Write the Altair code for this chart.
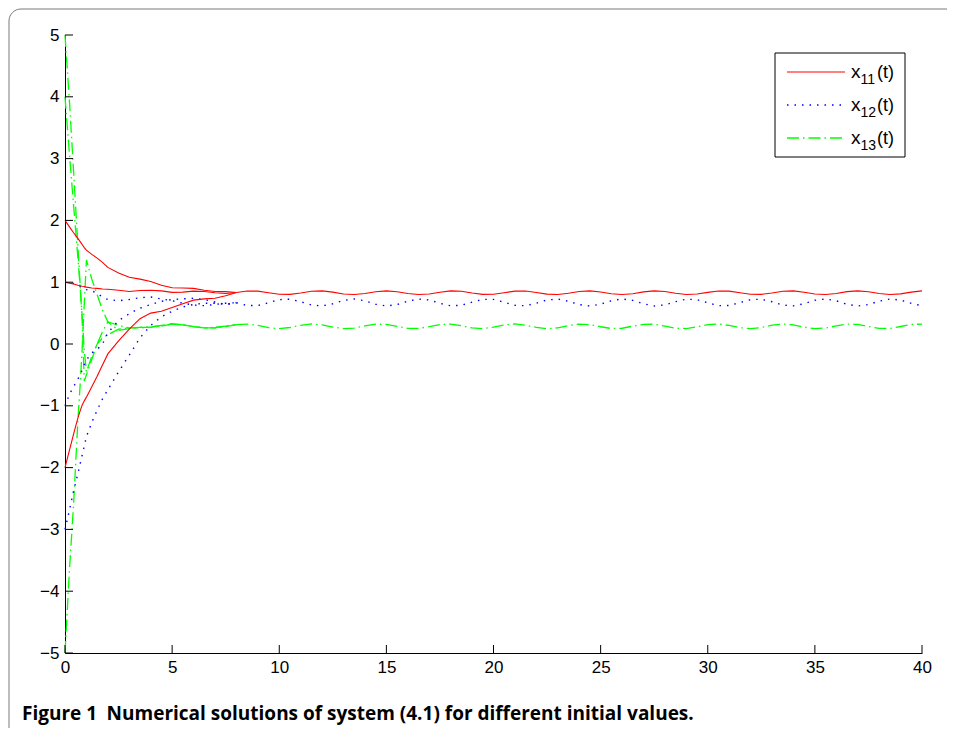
import altair as alt
import pandas as pd

# ---------------- data ----------------
t_early = [0, 0.2, 0.4, 0.6, 0.7, 0.8, 0.9, 1.0, 1.25, 1.5, 1.75, 2.0, 2.5,
           3, 3.5, 4, 4.5, 5, 5.5, 6, 6.5, 7, 7.5]

x11_a = [2.0, 1.9, 1.8, 1.71, 1.66, 1.61, 1.56, 1.52, 1.45, 1.39, 1.32, 1.24, 1.15,
         1.08, 1.05, 1.01, 0.95, 0.91, 0.905, 0.9, 0.87, 0.85, 0.85]
x11_b = [1.0, 0.985, 0.97, 0.95, 0.942, 0.935, 0.93, 0.92, 0.905, 0.9, 0.89, 0.885, 0.87,
         0.85, 0.865, 0.87, 0.86, 0.835, 0.84, 0.855, 0.85, 0.83, 0.82]
x11_c = [-2.0, -1.73, -1.46, -1.2, -1.09, -0.99, -0.92, -0.86, -0.69, -0.52, -0.34, -0.16, 0.05,
         0.24, 0.41, 0.50, 0.53, 0.59, 0.65, 0.71, 0.73, 0.74, 0.78]

x12_a = [1.0, 0.99, 0.98, 0.95, 0.935, 0.92, 0.9, 0.88, 0.86, 0.82, 0.76, 0.72, 0.70,
         0.72, 0.75, 0.76, 0.73, 0.70, 0.66, 0.63, 0.62, 0.64, 0.66]
x12_b = [-1.0, -0.82, -0.69, -0.57, -0.5, -0.42, -0.33, -0.26, -0.14, -0.09, 0.0, 0.18, 0.38,
         0.49, 0.58, 0.64, 0.69, 0.72, 0.73, 0.74, 0.72, 0.68, 0.64]
x12_c = [-3.0, -2.7, -2.38, -2.1, -1.95, -1.8, -1.65, -1.5, -1.27, -1.07, -0.89, -0.74, -0.45,
         -0.18, 0.1, 0.3, 0.44, 0.53, 0.6, 0.64, 0.66, 0.66, 0.64]

x13_a = [5.0, 3.97, 2.8, 1.6, 1.0, 0.4, -0.6, -0.5, -0.25, 0.0, 0.2, 0.36, 0.30,
         0.26, 0.26, 0.27, 0.30, 0.33, 0.31, 0.28, 0.26, 0.26, 0.29]
x13_b = [4.0, 3.1, 2.25, 1.4, 0.95, 0.45, -0.1, -0.45, -0.2, 0.0, 0.1, 0.15, 0.24,
         0.26, 0.27, 0.28, 0.30, 0.32, 0.31, 0.28, 0.26, 0.27, 0.29]
x13_c = [-5.0, -3.7, -2.6, -1.25, -0.7, -0.08, 0.65, 1.36, 1.05, 0.8, 0.55, 0.36, 0.22,
         0.25, 0.27, 0.27, 0.29, 0.32, 0.31, 0.28, 0.26, 0.26, 0.28]

t_late = [8 + 0.5 * i for i in range(65)]

x11_late = [0.834, 0.857, 0.855, 0.830, 0.805, 0.803, 0.826, 0.853, 0.859, 0.839,
            0.810, 0.800, 0.817, 0.846, 0.860, 0.846, 0.818, 0.800, 0.810, 0.838,
            0.859, 0.853, 0.826, 0.803, 0.805, 0.830, 0.855, 0.857, 0.834, 0.807,
            0.801, 0.822, 0.850, 0.860, 0.842, 0.814, 0.800, 0.814, 0.843, 0.860,
            0.849, 0.821, 0.801, 0.808, 0.835, 0.857, 0.855, 0.830, 0.805, 0.803,
            0.826, 0.853, 0.859, 0.838, 0.810, 0.800, 0.818, 0.847, 0.860, 0.846,
            0.817, 0.800, 0.811, 0.839, 0.859]
x12_late = [0.668, 0.622, 0.622, 0.668, 0.718, 0.725, 0.684, 0.631, 0.616, 0.652,
            0.706, 0.729, 0.699, 0.644, 0.615, 0.638, 0.692, 0.728, 0.712, 0.659,
            0.618, 0.627, 0.677, 0.722, 0.722, 0.675, 0.626, 0.619, 0.661, 0.713,
            0.728, 0.691, 0.637, 0.615, 0.645, 0.700, 0.729, 0.705, 0.651, 0.616,
            0.633, 0.685, 0.726, 0.717, 0.667, 0.621, 0.623, 0.669, 0.718, 0.725,
            0.683, 0.631, 0.617, 0.653, 0.707, 0.729, 0.698, 0.643, 0.615, 0.639,
            0.693, 0.728, 0.711, 0.658, 0.618]
x13_late = [0.312, 0.323, 0.301, 0.264, 0.248, 0.267, 0.303, 0.324, 0.310, 0.274,
            0.249, 0.258, 0.293, 0.321, 0.317, 0.285, 0.253, 0.252, 0.282, 0.316,
            0.322, 0.295, 0.260, 0.249, 0.272, 0.308, 0.324, 0.305, 0.269, 0.248,
            0.262, 0.298, 0.323, 0.314, 0.279, 0.251, 0.255, 0.288, 0.319, 0.320,
            0.290, 0.256, 0.250, 0.277, 0.312, 0.323, 0.300, 0.264, 0.248, 0.267,
            0.304, 0.324, 0.309, 0.273, 0.249, 0.259, 0.293, 0.321, 0.317, 0.284,
            0.253, 0.252, 0.283, 0.316, 0.322]

x_ticks = [0, 5, 10, 15, 20, 25, 30, 35, 40]
y_ticks = [-5, -4, -3, -2, -1, 0, 1, 2, 3, 4, 5]
legend_subs = ["11", "12", "13"]
caption = ["Figure 1\u2002Numerical solutions of system (4.1) for different initial values."]

# ---------------- build table ----------------
series = {
    "x11": ([x11_a, x11_b, x11_c], x11_late),
    "x12": ([x12_a, x12_b, x12_c], x12_late),
    "x13": ([x13_a, x13_b, x13_c], x13_late),
}
rows = []
for var, (earlies, late) in series.items():
    # transient part of each trajectory, joined to the first common point
    for k, early in enumerate(earlies):
        for t, v in zip(t_early + [t_late[0]], early + [late[0]]):
            rows.append({"t": t, "v": v, "var": var, "traj": str(k)})
    # common periodic part, drawn once
    for t, v in zip(t_late, late):
        rows.append({"t": t, "v": v, "var": var, "traj": "late"})
df = pd.DataFrame(rows)

W, H = 857, 618
FONT = "Liberation Sans"

xscale = alt.Scale(domain=[0, 40], nice=False, zero=False)
yscale = alt.Scale(domain=[-5, 5], nice=False, zero=False)

x_axis = alt.Axis(values=x_ticks, title=None, grid=False, ticks=False, domainColor="black",
                  domainWidth=1, labelFont=FONT, labelFontSize=17, labelColor="black",
                  labelPadding=6, labelFlush=False, labelOverlap=False)
y_axis = alt.Axis(values=y_ticks, title=None, grid=False, ticks=False, domainColor="black",
                  domainWidth=1, labelFont=FONT, labelFontSize=17, labelColor="black",
                  labelPadding=6, labelFlush=False, labelOverlap=False)


def X(field):
    return alt.X(field, scale=xscale, axis=x_axis)


def Y(field):
    return alt.Y(field, scale=yscale, axis=y_axis)


one = pd.DataFrame({"a": [0]})

frame = alt.Chart(one).mark_rect(filled=False, stroke="#7a7a7a", strokeWidth=1,
                                 cornerRadius=12).encode(
    x=alt.value(-56), x2=alt.value(W + 60), y=alt.value(-26), y2=alt.value(H + 120))

styles = {
    "x13": dict(color="#00ff00", strokeWidth=1.3, strokeDash=[12, 4, 1.5, 4]),
    "x12": dict(color="#0000ff", strokeWidth=1.4, strokeDash=[1.5, 6]),
    "x11": dict(color="#ff0000", strokeWidth=1.1),
}
line_layers = []
for var in ["x13", "x12", "x11"]:
    st = styles[var]
    mk = alt.Chart(df[df["var"] == var]).mark_line(strokeCap="butt", **st)
    line_layers.append(mk.encode(x=X("t:Q"), y=Y("v:Q"), detail="traj:N", order="t:Q"))

xt = alt.Chart(pd.DataFrame({"t": x_ticks, "v": [-5] * len(x_ticks)})).mark_rule(
    color="black", strokeWidth=1).encode(
    x=X("t:Q"), y=Y("v:Q"), y2=alt.value(H - 8))
yt = alt.Chart(pd.DataFrame({"v": y_ticks, "t": [0] * len(y_ticks)})).mark_rule(
    color="black", strokeWidth=1).encode(
    y=Y("v:Q"), x=X("t:Q"), x2=alt.value(8))

# legend
leg_layers = [
    alt.Chart(one).mark_rect(fill="white", stroke="black", strokeWidth=1).encode(
        x=alt.value(710), x2=alt.value(840), y=alt.value(18), y2=alt.value(122))
]
leg_styles = [styles["x11"], styles["x12"], styles["x13"]]
for i, sub in enumerate(legend_subs):
    yrow = 37 + 33 * i
    st = dict(leg_styles[i])
    leg_layers.append(alt.Chart(one).mark_rule(strokeCap="butt", **st).encode(
        x=alt.value(722), x2=alt.value(780), y=alt.value(yrow)))
    leg_layers.append(alt.Chart(pd.DataFrame({"s": ["x"]})).mark_text(
        font=FONT, fontSize=19, align="left", baseline="alphabetic", color="black").encode(
        text="s:N", x=alt.value(786), y=alt.value(yrow + 5.5)))
    leg_layers.append(alt.Chart(pd.DataFrame({"s": [sub]})).mark_text(
        font=FONT, fontSize=14, align="left", baseline="alphabetic", color="black").encode(
        text="s:N", x=alt.value(795.5), y=alt.value(yrow + 12)))
    leg_layers.append(alt.Chart(pd.DataFrame({"s": ["(t)"]})).mark_text(
        font=FONT, fontSize=18, align="left", baseline="alphabetic", color="black").encode(
        text="s:N", x=alt.value(812), y=alt.value(yrow + 5.5)))

cap = alt.Chart(pd.DataFrame({"s": caption})).mark_text(
    font="Open Sans", fontSize=19, fontWeight="bold", align="left",
    baseline="alphabetic", color="black").encode(
    text="s:N", x=alt.value(-43), y=alt.value(H + 67))

chart = alt.layer(frame, *line_layers, xt, yt, *leg_layers, cap).properties(
    width=W, height=H,
    padding={"left": 57, "top": 27, "right": 25, "bottom": 75},
    autosize=alt.AutoSizeParams(type="none"),
).configure_view(strokeWidth=0)

chart.save("out.html", embed_options={"renderer": "svg", "actions": False})
